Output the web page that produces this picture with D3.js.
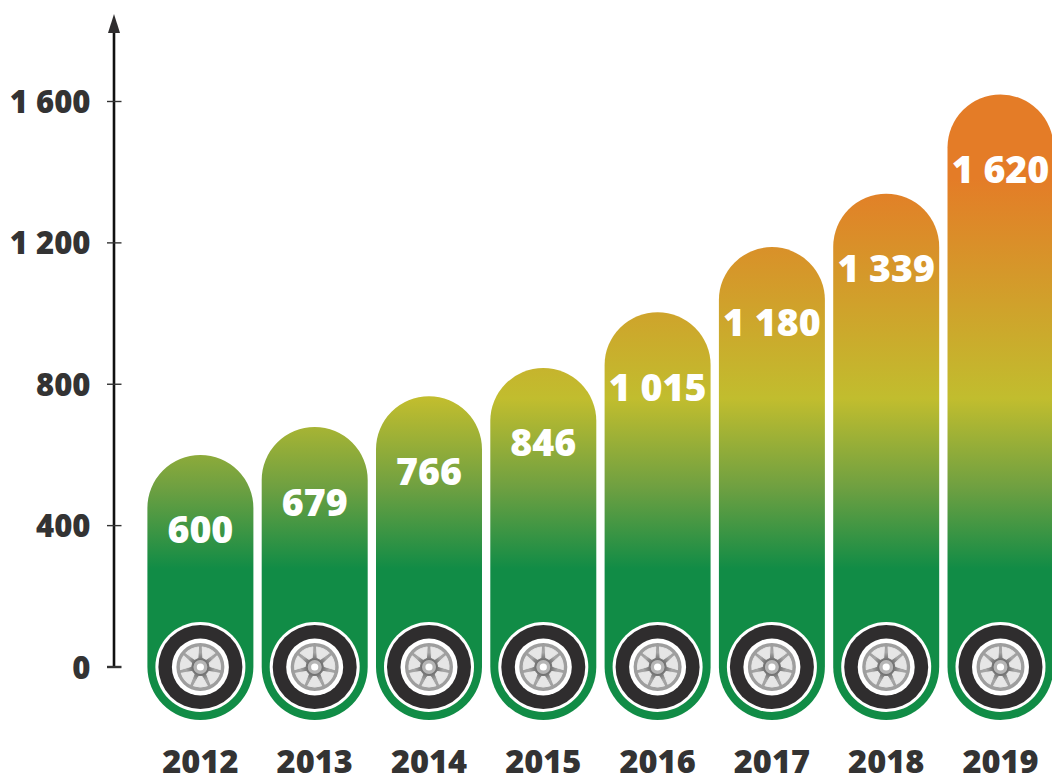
<!DOCTYPE html>
<html><head><meta charset="utf-8">
<script src="https://cdn.jsdelivr.net/npm/d3@7"></script>
<style>html,body{margin:0;padding:0;background:#fff;overflow:hidden}svg{display:block}text{font-family:"Open Sans";font-weight:800}</style>
</head><body>
<svg id="c" width="1052" height="776"></svg>
<script>
const years = ["2012","2013","2014","2015","2016","2017","2018","2019"];
const values = [600,679,766,846,1004,1188,1339,1620]; // heights as drawn in the picture
const valueLabels = ["600","679","766","846","1 015","1 180","1 339","1 620"];
const yTicks = [0,400,800,1200,1600];
const yTickLabels = ["0","400","800","1 200","1 600"];
const spokeAngles = [0,51.43,102.86,154.29,205.71,257.14,308.57];

const svg = d3.select("#c");
const y = d3.scaleLinear().domain([0,1600]).range([667,101.5]);
const x = d3.scaleBand().domain(years).range([147.4,1053.5]).paddingInner(0.0727).paddingOuter(0);
const bw = x.bandwidth();
const defs = svg.append("defs");
const g = defs.append("linearGradient").attr("id","grad").attr("gradientUnits","userSpaceOnUse")
  .attr("x1",0).attr("x2",0).attr("y1",720).attr("y2",90);
[[0,"#118c46"],[0.24,"#118c46"],[0.37,"#6fa041"],[0.51,"#c1bd2e"],[0.86,"#e47c27"],[1,"#e47c27"]].forEach(s=>g.append("stop").attr("offset",s[0]).attr("stop-color",s[1]));
const rim = defs.append("radialGradient").attr("id","rim");
[[0,"#eeeeee"],[0.3,"#6f6f6f"],[0.6,"#a6a6a6"],[1,"#9c9c9c"]].forEach(s=>rim.append("stop").attr("offset",s[0]).attr("stop-color",s[1]));

// bars
const base = y(0)+53;
svg.selectAll("path.bar").data(years).join("path").attr("class","bar")
  .attr("fill","url(#grad)")
  .attr("d",(d,i)=>{
    const l=x(d), r=bw/2, t=y(values[i]);
    return `M${l},${base-r}V${t+r}A${r},${r} 0 0 1 ${l+bw},${t+r}V${base-r}A${r},${r} 0 0 1 ${l},${base-r}Z`;
  });

// wheels
const w = svg.selectAll("g.wheel").data(years).join("g").attr("class","wheel")
  .attr("transform",d=>`translate(${x(d)+bw/2},${y(0)})`);
w.append("circle").attr("r",45).attr("fill","#fff");
w.append("circle").attr("r",42).attr("fill","#2f2d2e");
w.append("circle").attr("r",28.5).attr("fill","#fff");
w.append("circle").attr("r",24).attr("fill","url(#rim)");
w.each(function(){
  const s=d3.select(this);
  spokeAngles.forEach(a=>{
    s.append("path").attr("transform",`rotate(${a+25.71})`)
     .attr("d","M-1.8,-9.5L-7,-18.8A20,20 0 0 1 7,-18.8L1.8,-9.5Z")
     .attr("fill","#e6e6e6").attr("stroke","#e6e6e6").attr("stroke-width",1).attr("stroke-linejoin","round");
  });
});
w.append("circle").attr("r",7).attr("fill","#b5b5b5");
w.append("circle").attr("r",3.6).attr("fill","#fff");

// value labels
svg.selectAll("text.v").data(years).join("text").attr("class","v")
  .attr("x",d=>x(d)+bw/2).attr("y",(d,i)=>y(values[i])+75+13.5)
  .attr("text-anchor","middle").attr("font-size",37.5).attr("fill","#fff")
  .text((d,i)=>valueLabels[i]);

// years
svg.selectAll("text.yr").data(years).join("text").attr("class","yr")
  .attr("x",d=>x(d)+bw/2).attr("y",773)
  .attr("text-anchor","middle").attr("font-size",32.5).attr("fill","#333").text(d=>d);

// axis
svg.append("line").attr("x1",114).attr("x2",114).attr("y1",y(0)).attr("y2",28).attr("stroke","#111").attr("stroke-width",2.6);
svg.append("path").attr("d","M114,14L120,33H108Z").attr("fill","#2f2d2e");
svg.selectAll("line.t").data(yTicks).join("line").attr("class","t")
  .attr("x1",107).attr("x2",121.5).attr("y1",d=>y(d)).attr("y2",d=>y(d)).attr("stroke","#333").attr("stroke-width",d=>d===0?2.4:1.4);
svg.selectAll("text.yl").data(yTicks).join("text").attr("class","yl")
  .attr("x",90.5).attr("y",d=>y(d)+11.5).attr("text-anchor","end").attr("font-size",31).attr("fill","#333")
  .text((d,i)=>yTickLabels[i]);
</script>
</body></html>
